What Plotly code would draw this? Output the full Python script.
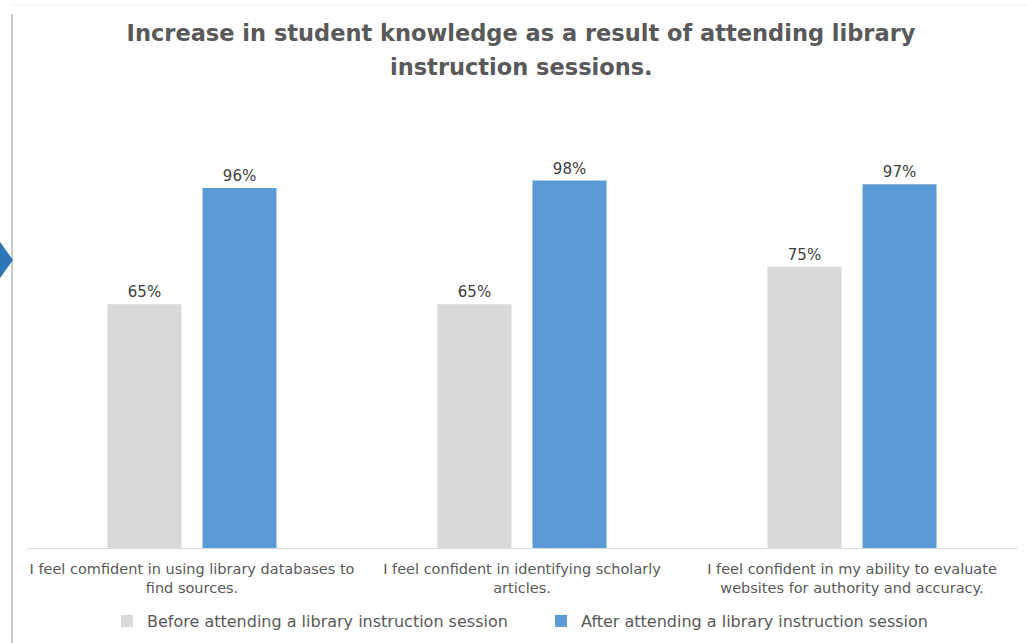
import plotly.graph_objects as go

categories = [
    "I feel comfident in using library databases to<br>find sources.",
    "I feel confident in identifying scholarly<br>articles.",
    "I feel confident in my ability to evaluate<br>websites for authority and accuracy.",
]
before_vals = [65, 65, 75]
after_vals = [96, 98, 97]
series_names = [
    "Before attending a library instruction session",
    "After attending a library instruction session",
]
title_line1 = "Increase in student knowledge as a result of attending library"
title_line2 = "instruction sessions."

W, H = 1027, 643
L, R, T, B = 27, 10, 173, 95
FONT = "DejaVu Sans"

fig = go.Figure()
fig.add_trace(go.Bar(
    x=categories, y=before_vals, name=series_names[0],
    marker=dict(color="#D9D9D9", line=dict(width=0)),
    text=[f"{v}%" for v in before_vals], textposition="outside",
    textfont=dict(size=15, color="#404040", family=FONT), cliponaxis=False,
))
fig.add_trace(go.Bar(
    x=categories, y=after_vals, name=series_names[1],
    marker=dict(color="#5B9BD5", line=dict(width=0)),
    text=[f"{v}%" for v in after_vals], textposition="outside",
    textfont=dict(size=15, color="#404040", family=FONT), cliponaxis=False,
))

pw = W - L - R
ph = H - T - B
def px_x(p):
    return (p - L) / pw
def px_y(p):
    return (H - B - p) / ph

shapes = [
    dict(type="line", xref="paper", yref="paper", x0=px_x(12), x1=px_x(12), y0=px_y(14), y1=px_y(643),
         line=dict(color="#C8C8C8", width=2)),
    dict(type="line", xref="paper", yref="paper", x0=px_x(12), x1=px_x(1027), y0=px_y(5), y1=px_y(5),
         line=dict(color="#EEEEEE", width=1)),
    dict(type="path", xref="paper", yref="paper",
         path=f"M {px_x(0)},{px_y(242)} L {px_x(13)},{px_y(260)} L {px_x(0)},{px_y(278)} Z",
         fillcolor="#2E75B6", line=dict(width=0)),
]

title_font = dict(family=FONT, size=22.5, color="#595959", weight="bold")

fig.update_layout(
    width=W, height=H,
    margin=dict(l=L, r=R, t=T, b=B, autoexpand=False),
    paper_bgcolor="white", plot_bgcolor="white",
    barmode="group", bargap=0.424, bargroupgap=0.221,
    title=dict(text=title_line1, x=px_x(521), xanchor="center", xref="paper",
               y=1 - 33 / H, yanchor="middle", yref="container", font=title_font),
    annotations=[dict(text=title_line2, x=px_x(521), xanchor="center", xref="paper",
                      y=px_y(67), yanchor="middle", yref="paper", showarrow=False,
                      font=title_font)],
    xaxis=dict(showline=True, linecolor="#D9D9D9", linewidth=1, ticks="", automargin=False,
               tickfont=dict(family=FONT, size=14.5, color="#595959"), showgrid=False,
               ticklabelstandoff=8),
    yaxis=dict(range=[0, 100], visible=False, showgrid=False, zeroline=False, automargin=False),
    legend=dict(orientation="h", x=px_x(541), xanchor="center", y=px_y(621), yanchor="middle",
                font=dict(family=FONT, size=16, color="#595959"), traceorder="normal",
                itemwidth=30, entrywidth=389, entrywidthmode="pixels"),
    showlegend=True,
    shapes=shapes,
)

fig.write_html("out.html", config={"displayModeBar": False},
               post_script="document.body.style.margin='0';")
